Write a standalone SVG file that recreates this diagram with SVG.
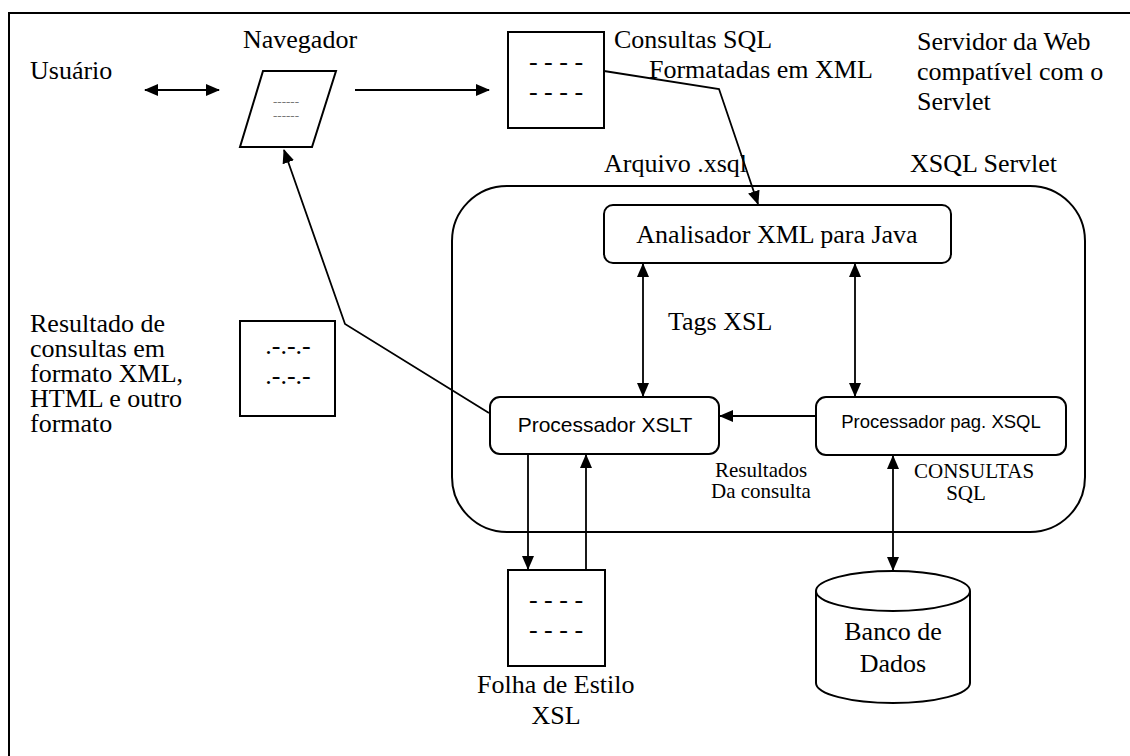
<svg xmlns="http://www.w3.org/2000/svg" width="1130" height="756" viewBox="0 0 1130 756">
<style>
.t{font-family:"Liberation Serif","Times New Roman",serif;font-size:26px;fill:#000}
.s{font-family:"Liberation Serif","Times New Roman",serif;font-size:21px;fill:#000}
.a{font-family:"Liberation Sans",Arial,sans-serif;fill:#000}
.ln{fill:none;stroke:#000;stroke-width:1.8}
.box{fill:#fff;stroke:#000;stroke-width:2}
</style>
<defs>
<marker id="ah" markerUnits="userSpaceOnUse" markerWidth="14" markerHeight="12" refX="13" refY="6" orient="auto-start-reverse" viewBox="0 0 14 12">
<path d="M0,0 L14,6 L0,12 z" fill="#000"/>
</marker>
</defs>
<rect width="1130" height="756" fill="#fff"/>
<g id="frame">
<path d="M9,756 V13 H1130" fill="none" stroke="#000" stroke-width="2"/>
</g>
<g id="container">
<rect x="452" y="186" width="633" height="346" rx="55" ry="55" fill="none" stroke="#000" stroke-width="2"/>
<text class="t" x="604" y="172">Arquivo .xsql</text>
<text class="t" x="910" y="172">XSQL Servlet</text>
<text class="t" x="668" y="330">Tags XSL</text>
<text class="s" x="715" y="477">Resultados</text>
<text class="s" x="711" y="498">Da consulta</text>
<text class="s" x="914" y="478">CONSULTAS</text>
<text class="s" x="966" y="500" text-anchor="middle">SQL</text>
</g>
<g id="usuario">
<text class="t" x="30" y="79">Usuário</text>
</g>
<g id="navegador">
<text class="t" x="243" y="48">Navegador</text>
<polygon class="box" points="263,71 336,71 312,147 240,147"/>
<text x="286" y="106" text-anchor="middle" font-family="Liberation Serif,serif" font-size="13" fill="#777">------</text>
<text x="286" y="120" text-anchor="middle" font-family="Liberation Serif,serif" font-size="13" fill="#777">------</text>
</g>
<g id="consultas">
<rect class="box" x="508" y="32" width="96" height="96"/>
<text class="t" x="556" y="70" text-anchor="middle">- - - -</text>
<text class="t" x="556" y="100" text-anchor="middle">- - - -</text>
<text class="t" x="614" y="48">Consultas SQL</text>
<text class="t" x="649" y="78">Formatadas em XML</text>
</g>
<g id="servidor">
<text class="t" x="917" y="50">Servidor da Web</text>
<text class="t" x="917" y="80">compatível com o</text>
<text class="t" x="917" y="110">Servlet</text>
</g>
<g id="resultado">
<text class="t" x="30" y="332">Resultado de</text>
<text class="t" x="30" y="357">consultas em</text>
<text class="t" x="30" y="382">formato XML,</text>
<text class="t" x="30" y="407">HTML e outro</text>
<text class="t" x="30" y="432">formato</text>
<rect class="box" x="240" y="321" width="95" height="95"/>
<text class="t" x="288" y="354" text-anchor="middle">.-.-.-</text>
<text class="t" x="288" y="384" text-anchor="middle">.-.-.-</text>
</g>
<g id="analisador">
<rect class="box" x="604" y="205" width="347" height="58" rx="9"/>
<text class="t" x="777" y="243" text-anchor="middle">Analisador XML para Java</text>
</g>
<g id="xslt">
<rect class="box" x="490" y="397" width="229" height="57" rx="10"/>
<text class="a" x="605" y="432" font-size="21" text-anchor="middle">Processador XSLT</text>
</g>
<g id="xsqlproc">
<rect class="box" x="816" y="397" width="250" height="58" rx="10"/>
<text class="a" x="941" y="428" font-size="18.5" text-anchor="middle">Processador pag. XSQL</text>
</g>
<g id="folha">
<rect class="box" x="508" y="570" width="97" height="96"/>
<text class="t" x="556" y="608" text-anchor="middle">- - - -</text>
<text class="t" x="556" y="638" text-anchor="middle">- - - -</text>
<text class="t" x="477" y="693">Folha de Estilo</text>
<text class="t" x="556" y="724" text-anchor="middle">XSL</text>
</g>
<g id="banco">
<path class="box" d="M816,591 V683 A77,20 0 0 0 970,683 V591 A77,20 0 0 0 816,591 A77,20 0 0 0 970,591"/>
<text class="t" x="893" y="640" text-anchor="middle">Banco de</text>
<text class="t" x="893" y="672" text-anchor="middle">Dados</text>
</g>
<g id="connectors">
<line class="ln" x1="145" y1="90" x2="219" y2="90" marker-start="url(#ah)" marker-end="url(#ah)"/>
<line class="ln" x1="355" y1="90" x2="489" y2="90" marker-end="url(#ah)"/>
<polyline class="ln" points="604,71 719,89 758,204" marker-end="url(#ah)"/>
<polyline class="ln" points="489,413 345,324 284,150" marker-end="url(#ah)"/>
<line class="ln" x1="643" y1="264" x2="643" y2="396" marker-start="url(#ah)" marker-end="url(#ah)"/>
<line class="ln" x1="855" y1="264" x2="855" y2="396" marker-start="url(#ah)" marker-end="url(#ah)"/>
<line class="ln" x1="816" y1="416" x2="720" y2="416" marker-end="url(#ah)"/>
<line class="ln" x1="528" y1="455" x2="528" y2="569" marker-end="url(#ah)"/>
<line class="ln" x1="586" y1="570" x2="586" y2="455" marker-end="url(#ah)"/>
<line class="ln" x1="893" y1="456" x2="893" y2="570" marker-start="url(#ah)" marker-end="url(#ah)"/>
</g>
</svg>
